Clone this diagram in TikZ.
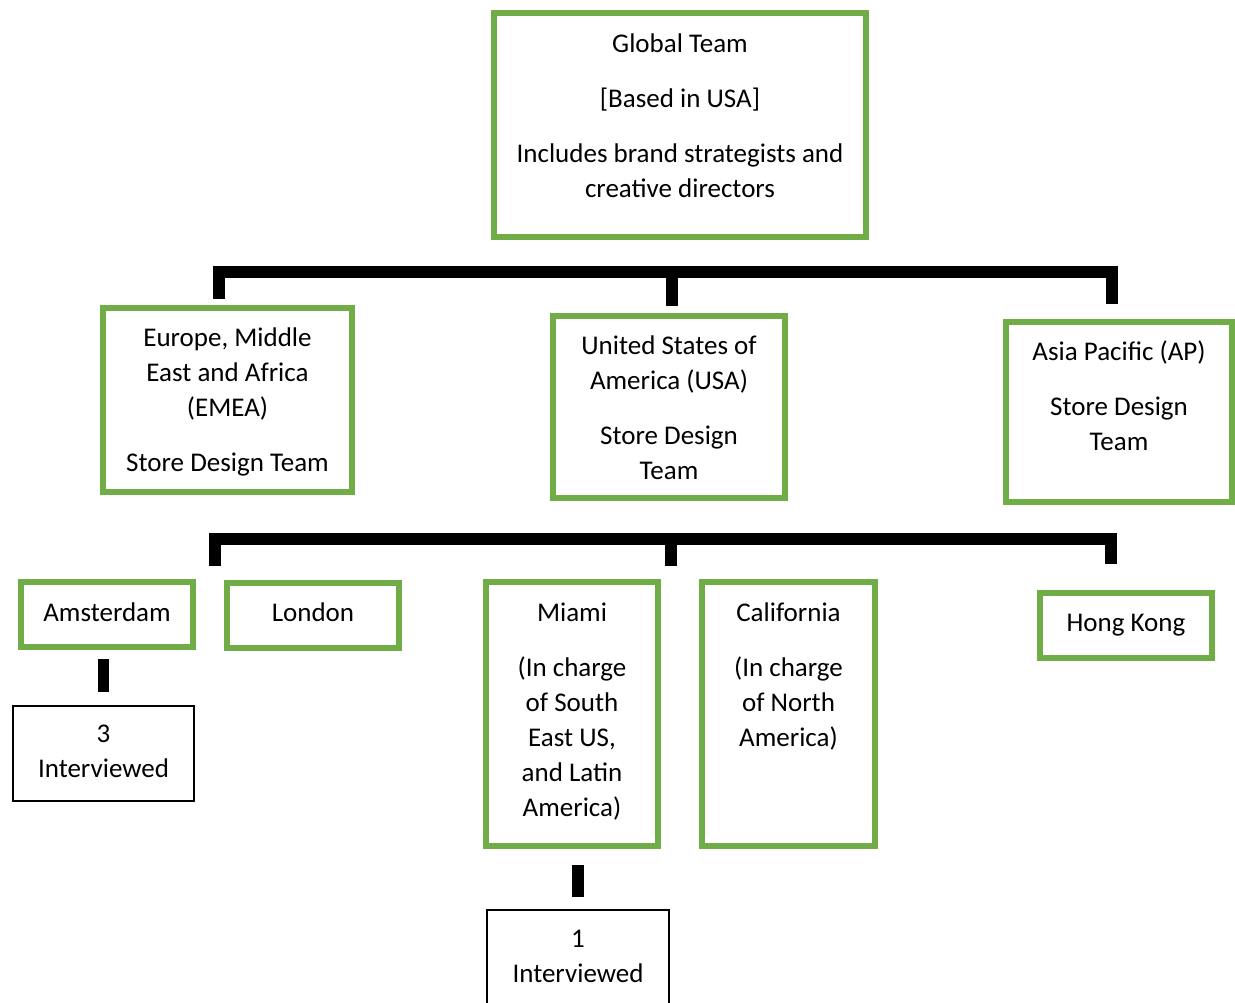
\documentclass[tikz,border=0pt]{standalone}
\usepackage{fontspec}
\setmainfont{Carlito}
\definecolor{boxgreen}{RGB}{112,173,71}
\newcommand\mybox[4][38]{\begin{minipage}[c][#3pt][t]{#2pt}\centering\rule{0pt}{#1pt}#4\end{minipage}}
\begin{document}
\begin{tikzpicture}[x=1pt,y=-1pt,
  gbox/.style={draw=boxgreen,line width=6pt,inner sep=0pt,font=\fontsize{27}{35}\selectfont},
  kbox/.style={draw=black,line width=2pt,inner sep=0pt,font=\fontsize{27}{35}\selectfont},
  bar/.style={draw=black,line width=11.5pt,line cap=butt,line join=miter}]
\useasboundingbox (0,0) rectangle (1235,1003);
% top level
\node[gbox] (global) at (680,125) {\mybox[40]{372}{224}{Global Team\\[20pt][Based in USA]\\[20pt]Includes brand strategists and\\creative directors}};
% regions
\node[gbox] (emea) at (227.5,400) {\mybox{249}{184}{Europe, Middle\\East and Africa\\(EMEA)\\[20pt]Store Design Team}};
\node[gbox] (usa) at (669,407) {\mybox{232}{182}{United States of\\America (USA)\\[20pt]Store Design\\Team}};
\node[gbox] (ap) at (1119,412) {\mybox{226}{180}{Asia Pacific (AP)\\[20pt]Store Design\\Team}};
% cities
\node[gbox] (ams) at (107,614.5) {\mybox[39]{172}{65}{Amsterdam}};
\node[gbox] (lon) at (313,615.5) {\mybox[38]{172}{65}{London}};
\node[gbox] (mia) at (572,714) {\mybox[39]{172}{264}{Miami\\[20pt](In charge\\of South\\East US,\\and Latin\\America)}};
\node[gbox] (cal) at (788.5,714) {\mybox[39]{173}{264}{California\\[20pt](In charge\\of North\\America)}};
\node[gbox] (hk) at (1126,625.5) {\mybox[38]{172}{65}{Hong Kong}};
% interviewed
\node[kbox] (int3) at (103.5,753.5) {\mybox[36]{181}{95}{3\\Interviewed}};
\node[kbox] (int1) at (578,960) {\mybox[37]{182}{100}{1\\Interviewed}};
% connectors level 1
\coordinate (d1) at (219,299);
\coordinate (d2) at (672,306);
\coordinate (d3) at (1112,304);
\coordinate (t1) at (672,272);
\draw[bar] (d1) |- (t1) -| (d3);
\draw[bar] (t1) -- (d2);
% connectors level 2
\coordinate (e1) at (215,566);
\coordinate (e2) at (671,566);
\coordinate (e3) at (1111,564);
\coordinate (t2) at (671,539);
\draw[bar] (e1) |- (t2) -| (e3);
\draw[bar] (t2) -- (e2);
% stubs
\draw[bar,shorten <=9pt,shorten >=13pt] (int3.north |- ams.south) -- (int3.north);
\draw[bar,shorten <=16pt,shorten >=12pt] (int1.north |- mia.south) -- (int1.north);
\end{tikzpicture}
\end{document}
